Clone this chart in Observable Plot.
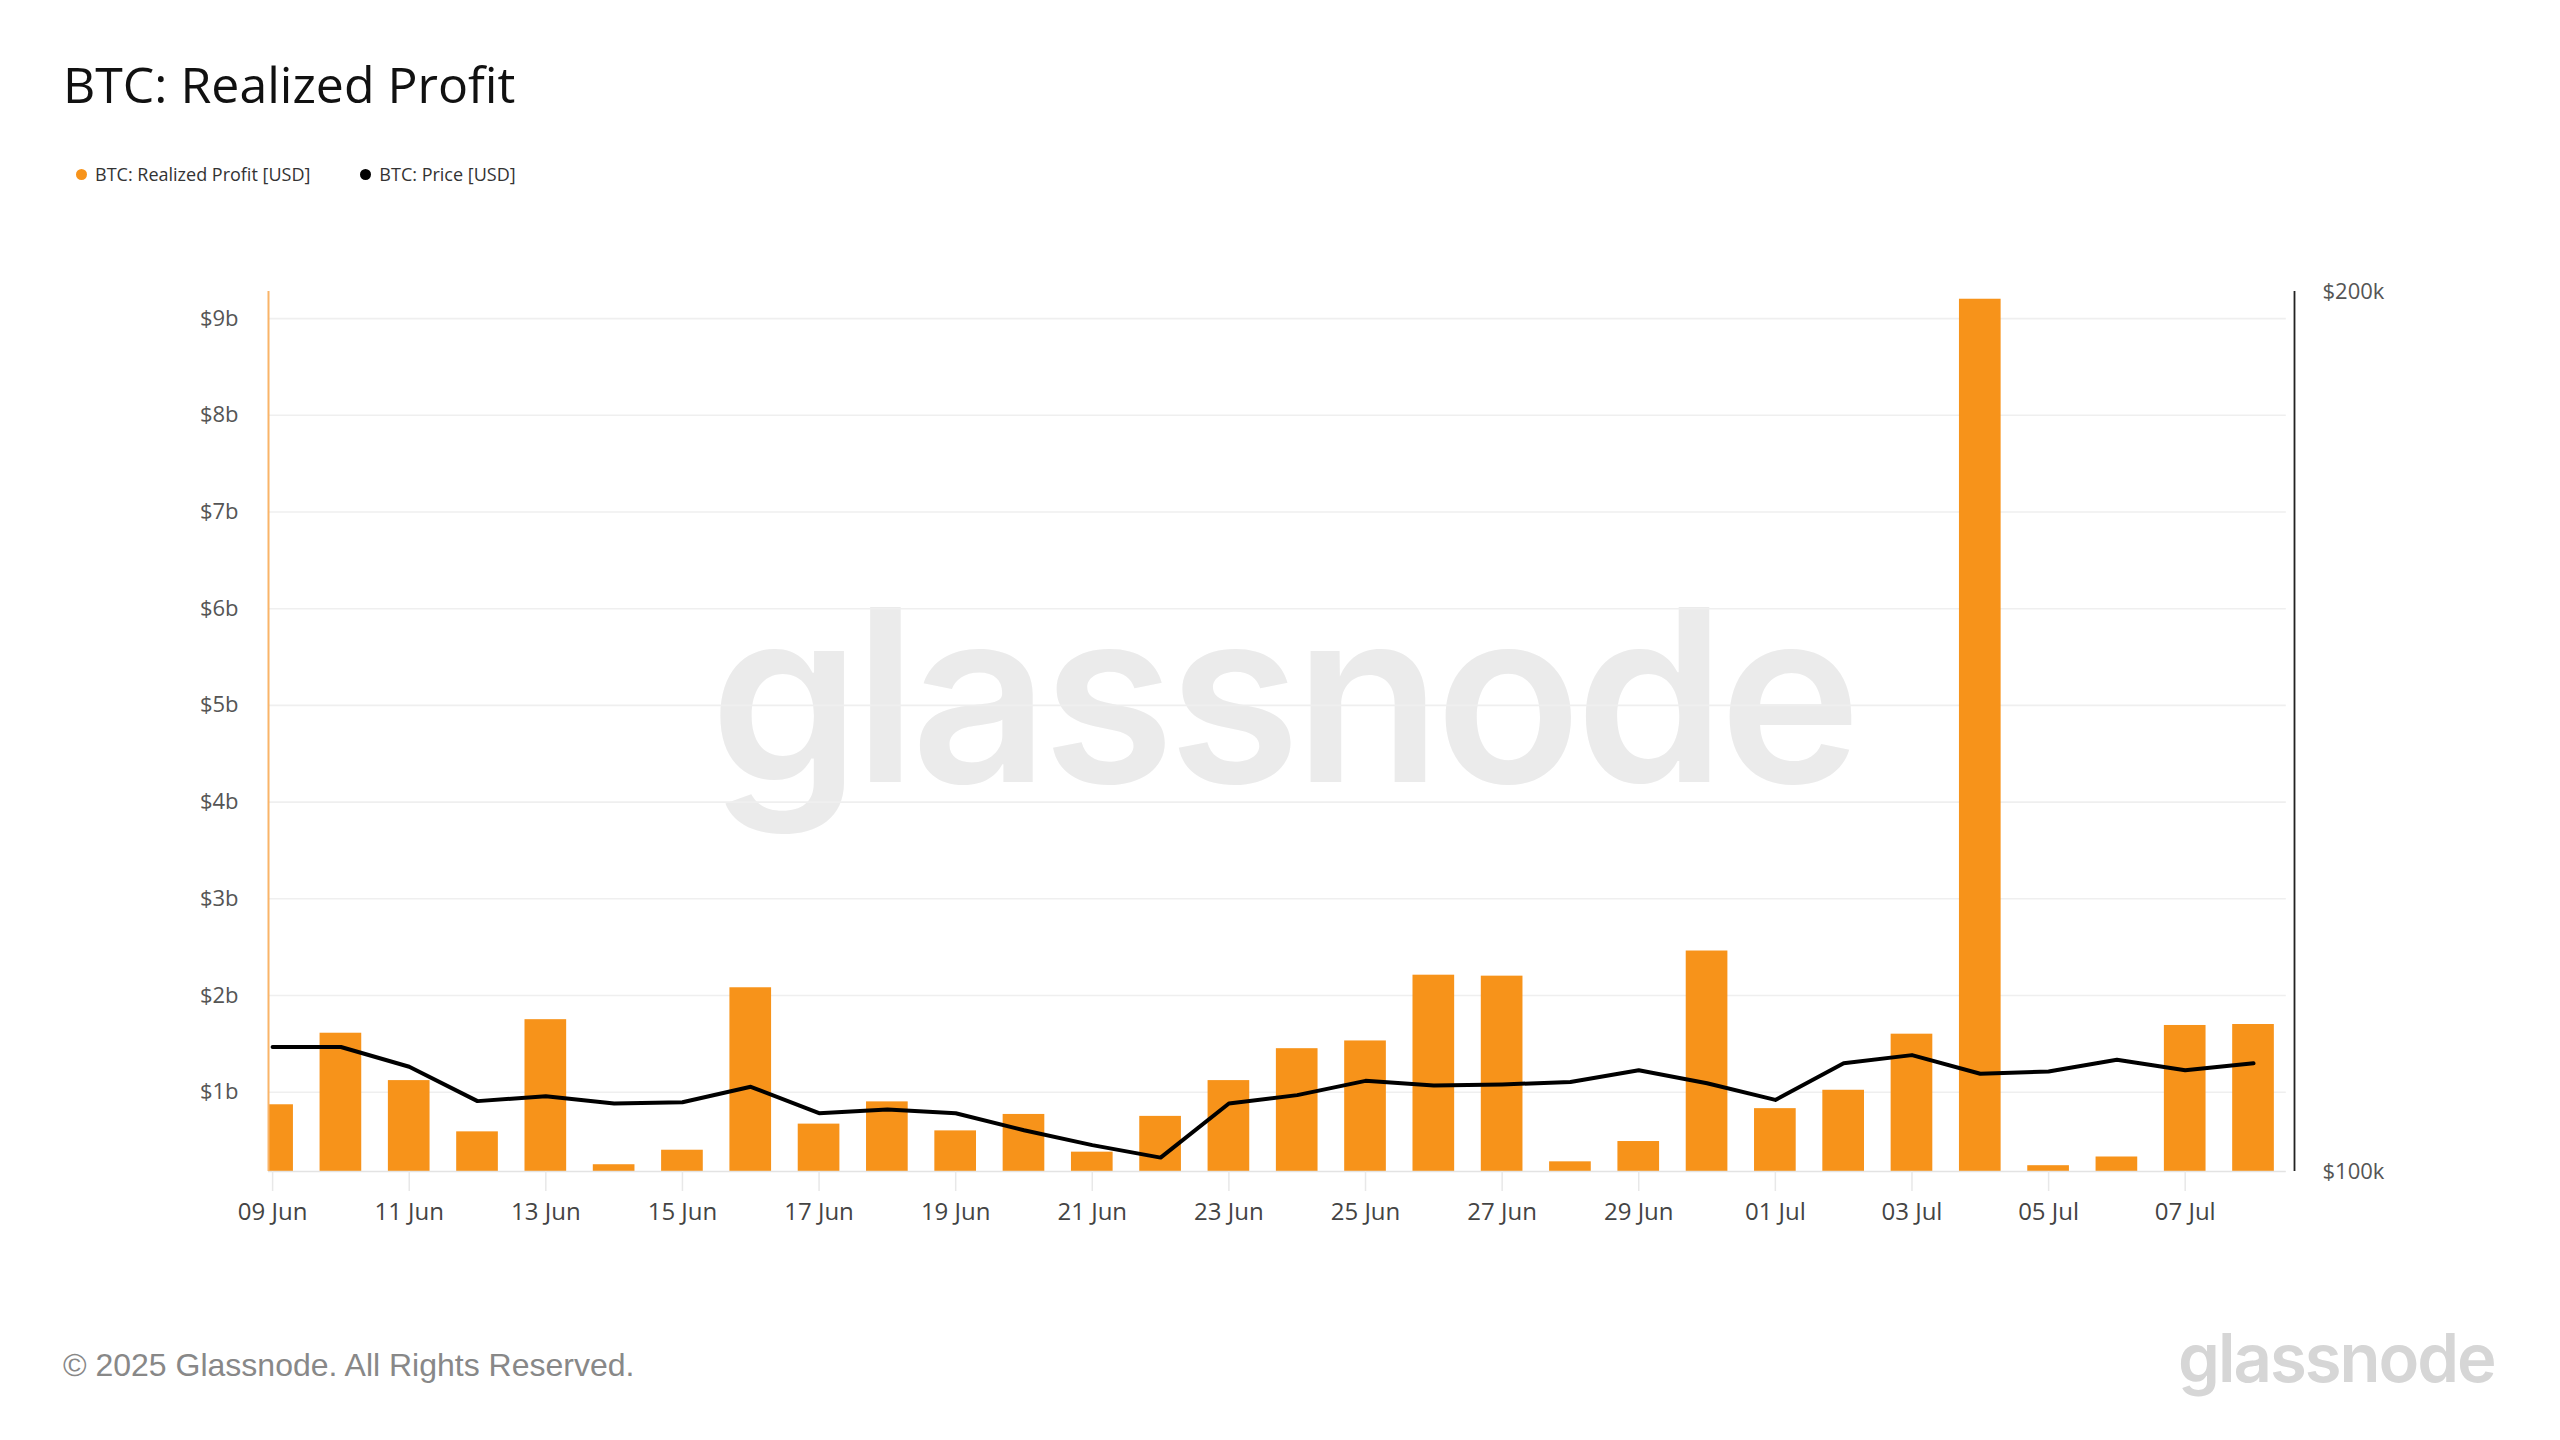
<!DOCTYPE html>
<html>
<head>
<meta charset="utf-8">
<script src="https://cdn.jsdelivr.net/npm/d3@7"></script>
<script src="https://cdn.jsdelivr.net/npm/@observablehq/plot@0.6"></script>
<style>
  html, body { margin: 0; padding: 0; background: #fff; }
  #page { position: relative; width: 2560px; height: 1440px; overflow: hidden; background: #fff; font-family: "Open Sans", sans-serif; }
  #title { position: absolute; left: 63px; top: 59px; font-size: 50px; line-height: 50px; color: #111; font-family: "Open Sans", sans-serif; white-space: nowrap; }
  #legend { position: absolute; left: 76px; top: 161px; font-size: 18px; line-height: 26px; color: #333; white-space: nowrap; display: flex; align-items: center; }
  .lg { display: flex; align-items: center; margin-right: 50px; }
  .dot { width: 11px; height: 11px; border-radius: 50%; margin-right: 8px; display: inline-block; }
  #watermark { position: absolute; left: 710px; top: 545px; font-family: Inter, sans-serif; font-weight: 600; font-size: 240px; line-height: 300px; color: #ebebeb; white-space: nowrap; letter-spacing: -6px; }
  #chart { position: absolute; left: 0; top: 250px; }
  #footer { position: absolute; left: 63px; top: 1345px; font-family: "Liberation Sans", Arial, sans-serif; font-size: 32px; line-height: 40px; color: #888; white-space: nowrap; }
  #logo { position: absolute; left: 2178px; top: 1318px; font-family: Inter, sans-serif; font-weight: 600; font-size: 67px; line-height: 80px; color: #d6d6d6; white-space: nowrap; letter-spacing: -2px; }
</style>
</head>
<body>
<div id="page">
  <div id="watermark">glassnode</div>
  <div id="title">BTC: Realized Profit</div>
  <div id="legend"></div>
  <div id="chart"></div>
  <div id="footer">© 2025 Glassnode. All Rights Reserved.</div>
  <div id="logo">glassnode</div>
</div>
<script>
// ---- data ----
const dates = ["2025-06-09","2025-06-10","2025-06-11","2025-06-12","2025-06-13","2025-06-14","2025-06-15","2025-06-16","2025-06-17","2025-06-18","2025-06-19","2025-06-20","2025-06-21","2025-06-22","2025-06-23","2025-06-24","2025-06-25","2025-06-26","2025-06-27","2025-06-28","2025-06-29","2025-06-30","2025-07-01","2025-07-02","2025-07-03","2025-07-04","2025-07-05","2025-07-06","2025-07-07","2025-07-08"];
const realizedProfitB = [0.87,1.61,1.12,0.59,1.75,0.25,0.40,2.08,0.67,0.90,0.60,0.77,0.38,0.75,1.12,1.45,1.53,2.21,2.20,0.28,0.49,2.46,0.83,1.02,1.60,9.20,0.24,0.33,1.69,1.70];
const priceK = [110.3,110.3,108.6,105.7,106.1,105.5,105.6,106.9,104.7,105.0,104.7,103.3,102.1,101.1,105.5,106.2,107.4,107.0,107.1,107.3,108.3,107.2,105.8,108.9,109.6,108.0,108.2,109.2,108.3,108.9];
const leftTicks = [1,2,3,4,5,6,7,8,9];
const leftTickLabels = ["$1b","$2b","$3b","$4b","$5b","$6b","$7b","$8b","$9b"];
const xTickDates = ["2025-06-09","2025-06-11","2025-06-13","2025-06-15","2025-06-17","2025-06-19","2025-06-21","2025-06-23","2025-06-25","2025-06-27","2025-06-29","2025-07-01","2025-07-03","2025-07-05","2025-07-07"];
const priceTicks = [100, 200];
const priceTickLabels = ["$100k","$200k"];
const series = [
  {name: "BTC: Realized Profit [USD]", color: "#f7931a"},
  {name: "BTC: Price [USD]", color: "#000000"}
];

// ---- legend ----
const lg = document.getElementById("legend");
series.forEach(s => {
  const d = document.createElement("div"); d.className = "lg";
  const dot = document.createElement("span"); dot.className = "dot"; dot.style.background = s.color;
  const t = document.createElement("span"); t.textContent = s.name;
  d.appendChild(dot); d.appendChild(t); lg.appendChild(d);
});

// ---- scales ----
const DAY = 864e5;
const parse = d3.utcParse("%Y-%m-%d");
const rows = dates.map((d, i) => ({date: parse(d), profit: realizedProfitB[i], price: priceK[i]}));
const yMin = 0.18, yMax = 9.28;
const xStart = new Date(+rows[0].date - 0.06 * DAY);
const xEnd = new Date(+rows[rows.length - 1].date + 0.6 * DAY);
const gridEnd = new Date(+rows[rows.length - 1].date + 0.48 * DAY);
const halfBar = 0.305 * DAY;
// log price [100k, 200k] mapped onto left value domain
const pScale = d3.scaleLog().domain([100, 200]).range([yMin, yMax]);

const chart = Plot.plot({
  width: 2560,
  height: 1000,
  marginLeft: 268,
  marginRight: 266,
  marginTop: 41,
  marginBottom: 79,
  style: {background: "transparent", fontFamily: "'Open Sans', sans-serif", overflow: "visible"},
  x: {type: "utc", domain: [xStart, xEnd]},
  y: {domain: [yMin, yMax], axis: null},
  marks: [
    Plot.ruleY(leftTicks, {y: d => d, x1: xStart, x2: gridEnd, stroke: "#efefef", strokeWidth: 1.6}),
    Plot.text(leftTicks, {y: d => d, text: (d, i) => leftTickLabels[i], frameAnchor: "left", dx: -30, textAnchor: "end", fontSize: 22, fill: "#555"}),
    Plot.rectY(rows, {x1: d => new Date(+d.date - halfBar), x2: d => new Date(+d.date + halfBar), y1: yMin, y2: "profit", fill: "#f7931a", clip: true}),
    Plot.ruleY([yMin], {x1: xStart, x2: gridEnd, stroke: "#e3e3e3", strokeWidth: 1.6}),
    Plot.axisX({ticks: xTickDates.map(parse), tickFormat: d3.utcFormat("%d %b"), tickSize: 20, tickPadding: 11, stroke: "#e8e8e8", strokeWidth: 1.5, fill: "#444", fontSize: 24, label: null}),
    Plot.ruleX([xStart], {y1: yMin, y2: yMax, stroke: "#f9b468", strokeWidth: 2}),
    Plot.ruleX([xEnd], {y1: yMin, y2: yMax, stroke: "#222", strokeWidth: 1.8}),
    Plot.text(priceTicks, {x: xEnd, y: d => pScale(d), text: (d, i) => priceTickLabels[i], dx: 28, textAnchor: "start", fontSize: 22, fill: "#555"}),
    Plot.line(rows, {x: "date", y: d => pScale(d.price), stroke: "#000", strokeWidth: 4, strokeLinejoin: "round"})
  ]
});
document.getElementById("chart").appendChild(chart);
</script>
</body>
</html>
